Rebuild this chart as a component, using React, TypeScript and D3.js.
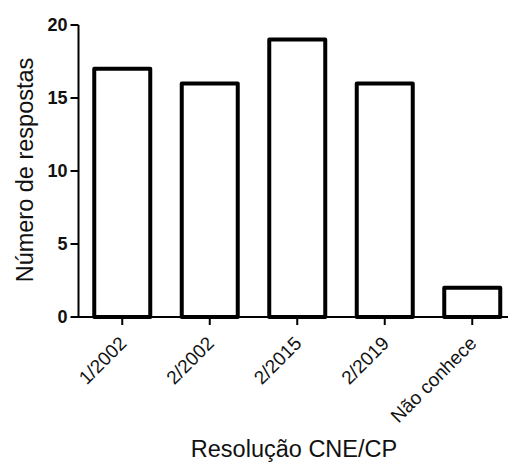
import React from "react";
import * as d3 from "d3";

const categories = ["1/2002", "2/2002", "2/2015", "2/2019", "Não conhece"];
const values = [17, 16, 19, 16, 2];
const yTicks = [0, 5, 10, 15, 20];
const xTitle = "Resolução CNE/CP";
const yTitle = "Número de respostas";

const W = 508;
const H = 463;
const FONT = "'Liberation Sans', Arial, sans-serif";

export default function App() {
  const x = d3
    .scaleBand<string>()
    .domain(categories)
    .range([78.5, 516])
    .paddingInner(0.36)
    .paddingOuter(0.18);
  const y = d3.scaleLinear().domain([0, 20]).range([317, 25]);
  const [x0] = x.range();
  const y0 = y(0);

  return (
    <div style={{ position: "absolute", left: 0, top: 0, width: W, height: H, background: "#fff" }}>
      <svg width={W} height={H} style={{ display: "block" }} fontFamily={FONT}>
        {/* bars */}
        {categories.map((c, i) => (
          <rect
            key={c}
            x={x(c)}
            y={y(values[i])}
            width={x.bandwidth()}
            height={y0 - y(values[i])}
            fill="#fff"
            stroke="#000"
            strokeWidth={4}
            strokeLinejoin="round"
          />
        ))}
        {/* y axis */}
        <line x1={x0} x2={x0} y1={y(20)} y2={y0} stroke="#000" strokeWidth={2} />
        {yTicks.map((t) => (
          <g key={t}>
            <line x1={x0 - 8} x2={x0} y1={y(t)} y2={y(t)} stroke="#000" strokeWidth={2} />
            <text
              x={x0 - 11}
              y={y(t)}
              dy="0.36em"
              textAnchor="end"
              fontSize={18}
              fontWeight="bold"
              fill="#111"
            >
              {t}
            </text>
          </g>
        ))}
        {/* x axis */}
        <line x1={x0 - 1} x2={W + 10} y1={y0} y2={y0} stroke="#000" strokeWidth={2} />
        {categories.map((c) => {
          const cx = (x(c) as number) + x.bandwidth() / 2;
          return (
            <g key={c}>
              <line x1={cx} x2={cx} y1={y0} y2={y0 + 8} stroke="#000" strokeWidth={2} />
              <text
                transform={`translate(${cx + 5.5},${344.5}) rotate(-45)`}
                textAnchor="end"
                fontSize={19}
                fill="#111"
              >
                {c}
              </text>
            </g>
          );
        })}
        {/* titles */}
        <text x={294} y={457} textAnchor="middle" fontSize={23.5} fill="#111">
          {xTitle}
        </text>
        <text
          transform={`translate(${33},${170}) rotate(-90)`}
          textAnchor="middle"
          fontSize={23.5}
          fill="#111"
        >
          {yTitle}
        </text>
      </svg>
    </div>
  );
}
